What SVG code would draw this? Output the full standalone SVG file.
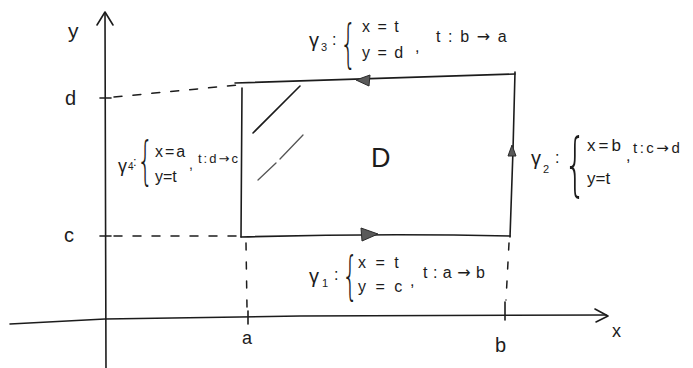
<svg xmlns="http://www.w3.org/2000/svg" width="693" height="368" viewBox="0 0 693 368">
<defs>
<style>
.ln{fill:none;stroke:#1c1c1c;stroke-width:1.6;stroke-linecap:round;stroke-linejoin:round}
.ds{fill:none;stroke:#1c1c1c;stroke-width:1.5;stroke-dasharray:8 11;stroke-linecap:round}
.ah{fill:#5a5a5a;stroke:#2a2a2a;stroke-width:1}
.t{font-family:"Liberation Sans","DejaVu Sans",sans-serif;fill:#1c1c1c}
.ar{font-family:"DejaVu Sans",sans-serif}
.br{font-family:"DejaVu Sans","Liberation Sans",sans-serif;fill:#1c1c1c;font-weight:200}
</style>
</defs>
<rect width="693" height="368" fill="#ffffff"/>

<g id="connectors">
  <!-- axes -->
  <path class="ln" d="M106,368 L105.5,200 L105,13"/>
  <path class="ln" d="M97,25 L105,12 L113,25"/>
  <path class="ln" d="M10,324 L105,319 L300,316 L606,315"/>
  <path class="ln" d="M595,309 L608,316 L596,322"/>
  <!-- ticks -->
  <path class="ln" d="M100,98 L111,98"/>
  <path class="ln" d="M100,236 L111,236"/>
  <path class="ln" d="M248,311 L248,324"/>
  <path class="ln" d="M505,302 L505,320"/>
  <!-- dashed guides -->
  <path class="ds" d="M114,97 L238,85"/>
  <path class="ds" d="M114,236 L240,236"/>
  <path class="ds" d="M246,243 L247,308" style="stroke-dasharray:7 12"/>
  <path class="ds" d="M509,243 L506,300" style="stroke-dasharray:7 12"/>
  <!-- boundary -->
  <path id="gamma3-edge" class="ln" d="M235,83 Q380,78 515,74"/>
  <path id="gamma2-edge" class="ln" d="M515,72 L513,150 L510,237"/>
  <path id="gamma1-edge" class="ln" d="M241,237 Q380,233 510,236"/>
  <path id="gamma4-edge" class="ln" d="M242,88 L241,237"/>
  <polygon class="ah" points="356,80 370,75 369,86"/>
  <polygon class="ah" points="378,234 361,228 362,241"/>
  <polygon class="ah" points="512,145 508,156 516,156"/>
  <!-- hatching -->
  <path class="ln" d="M253,133 L300,86"/>
  <path class="ln" d="M258,180 L276,163 M280,159 L303,135" style="stroke:#555;stroke-width:1.3"/>
</g>

<g id="axis-labels">
  <text class="t" x="68" y="38" font-size="21">y</text>
  <text class="t" x="612" y="337" font-size="18">x</text>
  <text class="t" x="65" y="105" font-size="20">d</text>
  <text class="t" x="64" y="242" font-size="20">c</text>
  <text class="t" x="242" y="344" font-size="18">a</text>
  <text class="t" x="495" y="352" font-size="20">b</text>
</g>

<g id="region-D">
  <text class="t" x="371" y="167" font-size="27">D</text>
</g>

<g id="gamma3">
  <text class="t" x="309" y="47" font-size="20">γ</text>
  <text class="t" x="321" y="51" font-size="11">3</text>
  <text class="t" x="332" y="45" font-size="16">:</text>
  <text class="br" transform="translate(340,61) scale(0.5,1)" font-size="52">{</text>
  <text class="t" x="362" y="32" font-size="16" letter-spacing="1.5">x = t</text>
  <text class="t" x="362" y="58" font-size="16" letter-spacing="1.5">y = d</text>
  <text class="t" x="415" y="52" font-size="16">,</text>
  <text class="t" x="436" y="42" font-size="16" letter-spacing="1.6">t : b <tspan class="ar">→</tspan> a</text>
</g>

<g id="gamma2">
  <text class="t" x="531" y="165" font-size="20">γ</text>
  <text class="t" x="543" y="173" font-size="11">2</text>
  <text class="t" x="555" y="163" font-size="16">:</text>
  <text class="br" transform="translate(564,188) scale(0.5,1)" font-size="70">{</text>
  <text class="t" x="587" y="151" font-size="17" letter-spacing="3">x=b</text>
  <text class="t" x="587" y="184" font-size="17">y=t</text>
  <text class="t" x="626" y="161" font-size="16">,</text>
  <text class="t" x="633" y="153" font-size="15" letter-spacing="2.5">t:c<tspan class="ar">→</tspan>d</text>
</g>

<g id="gamma1">
  <text class="t" x="309" y="283" font-size="20">γ</text>
  <text class="t" x="322" y="287" font-size="11">1</text>
  <text class="t" x="334" y="280" font-size="16">:</text>
  <text class="br" transform="translate(342,293) scale(0.5,1)" font-size="51">{</text>
  <text class="t" x="358" y="268" font-size="16" letter-spacing="2.5">x = t</text>
  <text class="t" x="358" y="292" font-size="16" letter-spacing="2.5">y = c</text>
  <text class="t" x="410" y="286" font-size="16">,</text>
  <text class="t" x="423" y="278" font-size="16" letter-spacing="0.5">t : a <tspan class="ar">→</tspan> b</text>
</g>

<g id="gamma4">
  <text class="t" x="118" y="172" font-size="18">γ</text>
  <text class="t" x="128" y="170" font-size="10">4</text>
  <text class="t" x="133" y="166" font-size="13">:</text>
  <text class="br" transform="translate(137,178) scale(0.5,1)" font-size="52">{</text>
  <text class="t" x="155" y="157" font-size="16" letter-spacing="2">x=a</text>
  <text class="t" x="155" y="182" font-size="16">y=t</text>
  <text class="t" x="189" y="169" font-size="14">,</text>
  <text class="t" x="198" y="163" font-size="13" letter-spacing="2">t:d<tspan class="ar">→</tspan>c</text>
</g>
</svg>
